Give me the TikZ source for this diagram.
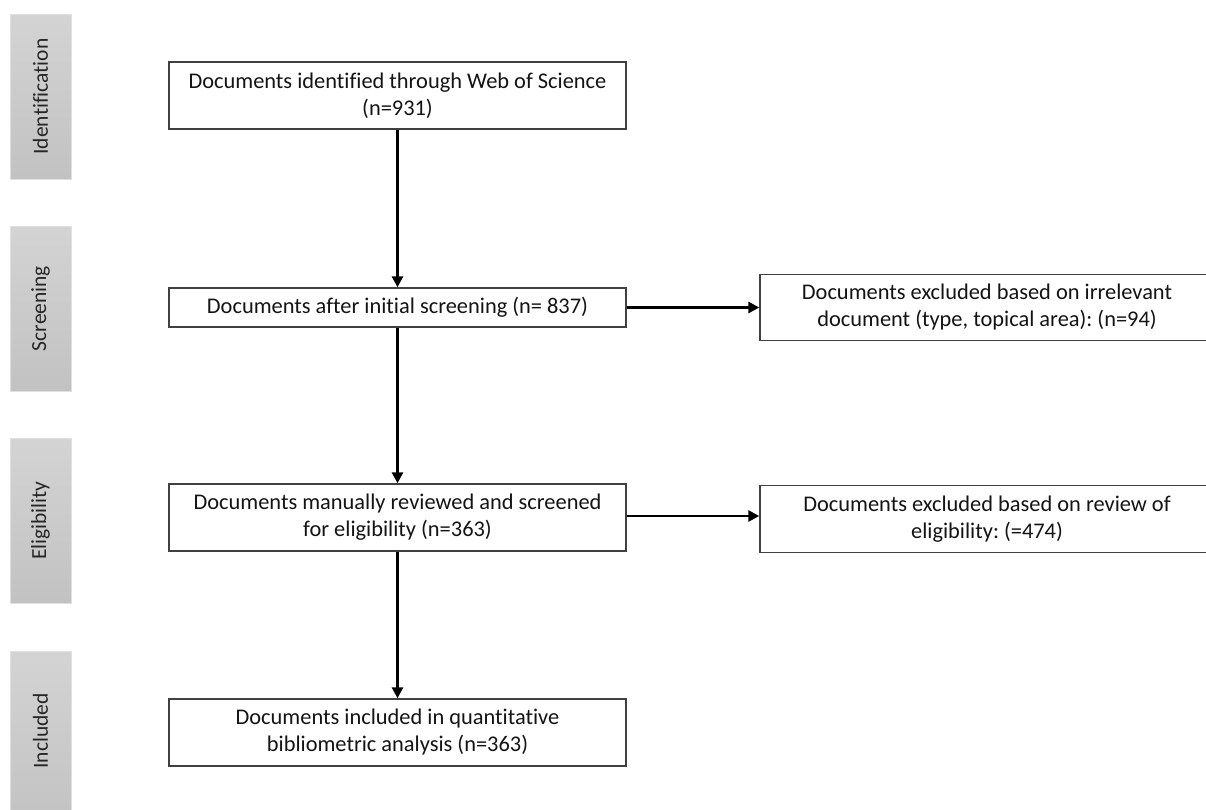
\documentclass[tikz,border=0pt]{standalone}
\usepackage{fontspec}
\setmainfont{Carlito}[Ligatures=CommonOff]
\frenchspacing
\usetikzlibrary{arrows.meta}
\begin{document}
\begin{tikzpicture}[x=1pt,y=-1pt,
  stagebox/.style={draw=black!12,line width=0.8pt,top color=black!17,bottom color=black!24,minimum width=61pt,inner sep=0pt},
  stagetext/.style={font=\fontsize{21.5}{24}\selectfont,text=black!85,rotate=90},
  flowbox/.style={draw=black!75,line width=1.4pt,fill=white,inner sep=0pt,align=center,font=\fontsize{22.4}{27}\selectfont\frenchspacing,text=black!92},
  flowarrow/.style={draw=black,line width=2.8pt,-{Triangle[length=11pt,width=11pt]}}]
\useasboundingbox (0,0) rectangle (1206,809);
\clip (0,0) rectangle (1206,809);
\fill[white] (0,0) rectangle (1206,809);
% stage labels
\path[stagebox] (10,14) rectangle (71,179);
\path[stagebox] (10,226) rectangle (71,391);
\path[stagebox] (10,438) rectangle (71,603);
\path[stagebox] (10,651) rectangle (71,830);
\node[stagetext] (sid) at (40.5,96.5) {Identification};
\node[stagetext] (ssc) at (40.5,308.5) {Screening};
\node[stagetext] (sel) at (40.5,520.5) {Eligibility};
\node[stagetext] (sin) at (40.5,731) {Included};
% flow boxes
\node[flowbox,minimum width=457pt,minimum height=67pt] (id) at (397.5,95.5) {Documents identified through Web of Science\\(n=931)};
\node[flowbox,minimum width=457pt,minimum height=39pt] (sc) at (397.5,307.5) {Documents after initial screening (n= 837)};
\node[flowbox,minimum width=457pt,minimum height=67pt] (el) at (397.5,517.5) {Documents manually reviewed and screened\\for eligibility (n=363)};
\node[flowbox,minimum width=457pt,minimum height=67pt] (in) at (397.5,732.5) {Documents included in quantitative\\bibliometric analysis (n=363)};
\node[flowbox,minimum width=454pt,minimum height=66pt] (ex1) at (987,307.5) {Documents excluded based on irrelevant\\document (type, topical area): (n=94)};
\node[flowbox,minimum width=454pt,minimum height=67pt] (ex2) at (987,519) {Documents excluded based on review of\\eligibility: (=474)};
% arrows
\draw[flowarrow] (id.south) -- (sc.north);
\draw[flowarrow] (sc.south) -- (el.north);
\draw[flowarrow] (el.south) -- (in.north);
\draw[flowarrow] (sc.east) -- (sc.east -| ex1.west);
\draw[flowarrow] ([yshift=1.5pt]el.east) -- ([yshift=1.5pt]el.east -| ex2.west);
\end{tikzpicture}
\end{document}
